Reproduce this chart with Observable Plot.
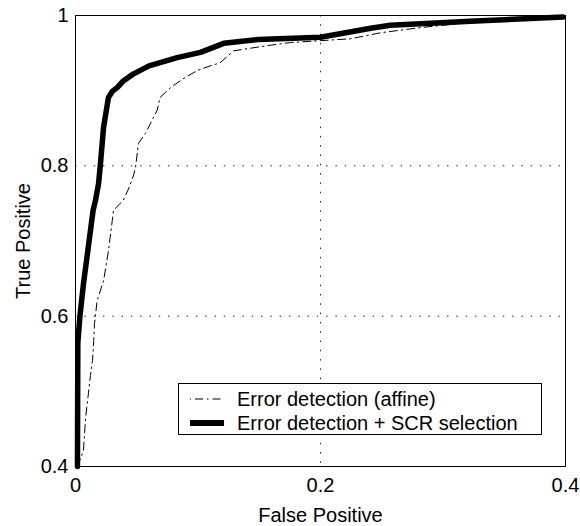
<!DOCTYPE html>
<html>
<head>
<meta charset="utf-8">
<script src="https://cdn.jsdelivr.net/npm/d3@7"></script>
<script src="https://cdn.jsdelivr.net/npm/@observablehq/plot@0.6"></script>
<style>
  html, body { margin: 0; padding: 0; background: white; }
  #wrap { position: relative; width: 580px; height: 526px; font-family: "Liberation Sans", Arial, Helvetica, sans-serif; }
  #legend { position: absolute; left: 178px; top: 383px; width: 362px; height: 50px; border: 1px solid black; background: white; font-size: 20px; }
  .row { position: absolute; left: 0; height: 24px; display: flex; align-items: center; }
  .row svg { margin-left: 11px; margin-right: 13px; }
</style>
</head>
<body>
<div id="wrap"></div>
<script>
// ---- data ----
const seriesNames = ["Error detection (affine)", "Error detection + SCR selection"];

const fpAffine = [0.0016, 0.0065, 0.0082, 0.0106, 0.0122, 0.0139, 0.0149, 0.0155, 0.0177, 0.0229, 0.0269, 0.030, 0.031, 0.039, 0.044, 0.0475, 0.049, 0.0514, 0.057, 0.0667, 0.069, 0.0776, 0.088, 0.0996, 0.110, 0.118, 0.129, 0.157, 0.1755, 0.2245, 0.249, 0.282, 0.331, 0.4];
const tpAffine = [0.400, 0.421, 0.464, 0.498, 0.521, 0.541, 0.568, 0.590, 0.621, 0.647, 0.687, 0.727, 0.741, 0.754, 0.772, 0.788, 0.798, 0.830, 0.843, 0.874, 0.891, 0.904, 0.916, 0.927, 0.933, 0.937, 0.953, 0.960, 0.964, 0.969, 0.977, 0.984, 0.992, 1.0];

const fpScr = [0.0016, 0.0019, 0.0035, 0.0065, 0.0144, 0.0163, 0.0188, 0.0204, 0.0218, 0.0229, 0.0269, 0.030, 0.034, 0.039, 0.047, 0.060, 0.083, 0.102, 0.121, 0.149, 0.200, 0.241, 0.257, 0.331, 0.398];
const tpScr = [0.400, 0.564, 0.598, 0.643, 0.741, 0.754, 0.776, 0.803, 0.830, 0.851, 0.891, 0.899, 0.904, 0.913, 0.922, 0.933, 0.944, 0.951, 0.963, 0.968, 0.971, 0.983, 0.987, 0.993, 0.998];

const xTicks = [0, 0.2, 0.4];
const xTickLabels = ["0", "0.2", "0.4"];
const yTicks = [0.4, 0.6, 0.8, 1];
const yTickLabels = ["0.4", "0.6", "0.8", "1"];
const xLabel = "False Positive";
const yLabel = "True Positive";

// ---- tables built from the arrays ----
const affine = fpAffine.map((x, i) => ({x, y: tpAffine[i]}));
const scr = fpScr.map((x, i) => ({x, y: tpScr[i]}));

const dashDot = "8,4,1.5,4";
const gridDash = "1.5,7.8";

const chart = Plot.plot({
  width: 580,
  height: 526,
  marginTop: 15,
  marginLeft: 75,
  marginRight: 15,
  marginBottom: 60,
  style: {fontFamily: '"Liberation Sans", Arial, Helvetica, sans-serif', fontSize: "20px", background: "white", color: "black", overflow: "visible"},
  x: {domain: [0, 0.4]},
  y: {domain: [0.4, 1]},
  marks: [
    Plot.gridX(xTicks, {stroke: "black", strokeOpacity: 0.85, strokeDasharray: gridDash}),
    Plot.gridY(yTicks, {stroke: "black", strokeOpacity: 0.85, strokeDasharray: gridDash}),
    Plot.axisX(xTicks, {tickSize: 0, tickPadding: 11, fontSize: 20,
      tickFormat: d => xTickLabels[xTicks.indexOf(d)],
      label: xLabel, labelAnchor: "center", labelArrow: "none", labelOffset: 55}),
    Plot.axisY(yTicks, {tickSize: 0, tickPadding: 7, fontSize: 20,
      tickFormat: d => yTickLabels[yTicks.indexOf(d)],
      label: yLabel, labelAnchor: "center", labelArrow: "none", labelOffset: 60}),
    Plot.line(affine, {x: "x", y: "y", stroke: "black", strokeWidth: 1, strokeDasharray: dashDot}),
    Plot.line(scr, {x: "x", y: "y", stroke: "black", strokeWidth: 5.5, strokeLinejoin: "round", strokeLinecap: "round"}),
    Plot.frame({stroke: "black", strokeWidth: 1})
  ]
});

const wrap = document.getElementById("wrap");
wrap.appendChild(chart);

// legend overlay inside plot area
const legend = document.createElement("div");
legend.id = "legend";
const styles = [
  {w: 1, dash: dashDot},
  {w: 6, dash: null}
];
seriesNames.forEach((name, i) => {
  const row = document.createElement("div");
  row.className = "row";
  row.style.top = (3 + i * 24) + "px";
  const s = styles[i];
  row.innerHTML = `<svg width="34" height="12"><line x1="0" x2="34" y1="6" y2="6" stroke="black" stroke-width="${s.w}" ${s.dash ? `stroke-dasharray="${s.dash}" stroke-dashoffset="-5"` : ""}/></svg><span>${name}</span>`;
  legend.appendChild(row);
});
wrap.appendChild(legend);
</script>
</body>
</html>
